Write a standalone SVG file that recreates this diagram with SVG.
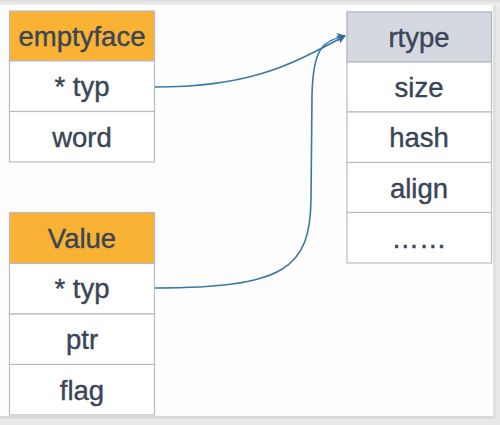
<svg xmlns="http://www.w3.org/2000/svg" width="500" height="425" viewBox="0 0 500 425">
<defs>
<linearGradient id="topg" x1="0" y1="0" x2="0" y2="1"><stop offset="0" stop-color="#dcdcdc"/><stop offset="1" stop-color="#f4f4f4"/></linearGradient>
<marker id="arr" viewBox="0 0 10 10" refX="9" refY="5" markerWidth="9" markerHeight="9" markerUnits="userSpaceOnUse" orient="auto">
<path d="M0,0 L10,5 L0,10 L3,5 Z" fill="#2f6c98"/>
</marker>
<style>
.cell{fill:#ffffff;stroke:#b7bcc4;stroke-width:1.2}
.hdr{fill:#f9b233;stroke:#b7bcc4;stroke-width:1.2}
.hdr2{fill:#d4d9e1;stroke:#aab0b9;stroke-width:1.2}
.t{font-family:"Liberation Sans",Arial,sans-serif;font-size:27.5px;fill:#3a4556;stroke:#3a4556;stroke-width:0.4;text-anchor:middle}
.c{fill:none;stroke:#3b78a3;stroke-width:1.6}
</style>
</defs>
<rect x="0" y="0" width="500" height="425" fill="#e9e9e9"/>
<rect x="0" y="0" width="500" height="6" fill="url(#topg)"/>
<rect x="0" y="5" width="493" height="411" fill="#fdfdfe"/>
<rect x="0" y="416" width="496" height="3" fill="#d8d8d8"/>
<rect x="493" y="5" width="3" height="414" fill="#e0e0e0"/>

<g id="emptyface">
<rect class="hdr" x="9.5" y="11" width="145" height="50"/>
<rect class="cell" x="9.5" y="61" width="145" height="50.5"/>
<rect class="cell" x="9.5" y="111.5" width="145" height="50.5"/>
<text class="t" x="82" y="46">emptyface</text>
<text class="t" x="82" y="96">* typ</text>
<text class="t" x="82" y="146.5">word</text>
</g>

<g id="value">
<rect class="hdr" x="9.5" y="212.5" width="145" height="51"/>
<rect class="cell" x="9.5" y="263.5" width="145" height="50.5"/>
<rect class="cell" x="9.5" y="314" width="145" height="50.5"/>
<rect class="cell" x="9.5" y="364.5" width="145" height="50.5"/>
<text class="t" x="82" y="248">Value</text>
<text class="t" x="82" y="298">* typ</text>
<text class="t" x="82" y="349">ptr</text>
<text class="t" x="82" y="399.5">flag</text>
</g>

<g id="rtype">
<rect class="hdr2" x="347" y="12" width="144.5" height="50"/>
<rect class="cell" x="347" y="62" width="144.5" height="50"/>
<rect class="cell" x="347" y="112" width="144.5" height="50.5"/>
<rect class="cell" x="347" y="162.5" width="144.5" height="50"/>
<rect class="cell" x="347" y="212.5" width="144.5" height="50.5"/>
<text class="t" x="419" y="47">rtype</text>
<text class="t" x="419" y="97">size</text>
<text class="t" x="419" y="147">hash</text>
<text class="t" x="419" y="197.5">align</text>
<text class="t" x="419" y="247.5">……</text>
</g>

<g id="connectors">
<path class="c" d="M155,87 C255,87 295,62 345,36" marker-end="url(#arr)"/>
<path class="c" d="M155,288 C285,288 310,268 311,200 L312,95 C313,50 322,40 345,36" marker-end="url(#arr)"/>
</g>
</svg>
